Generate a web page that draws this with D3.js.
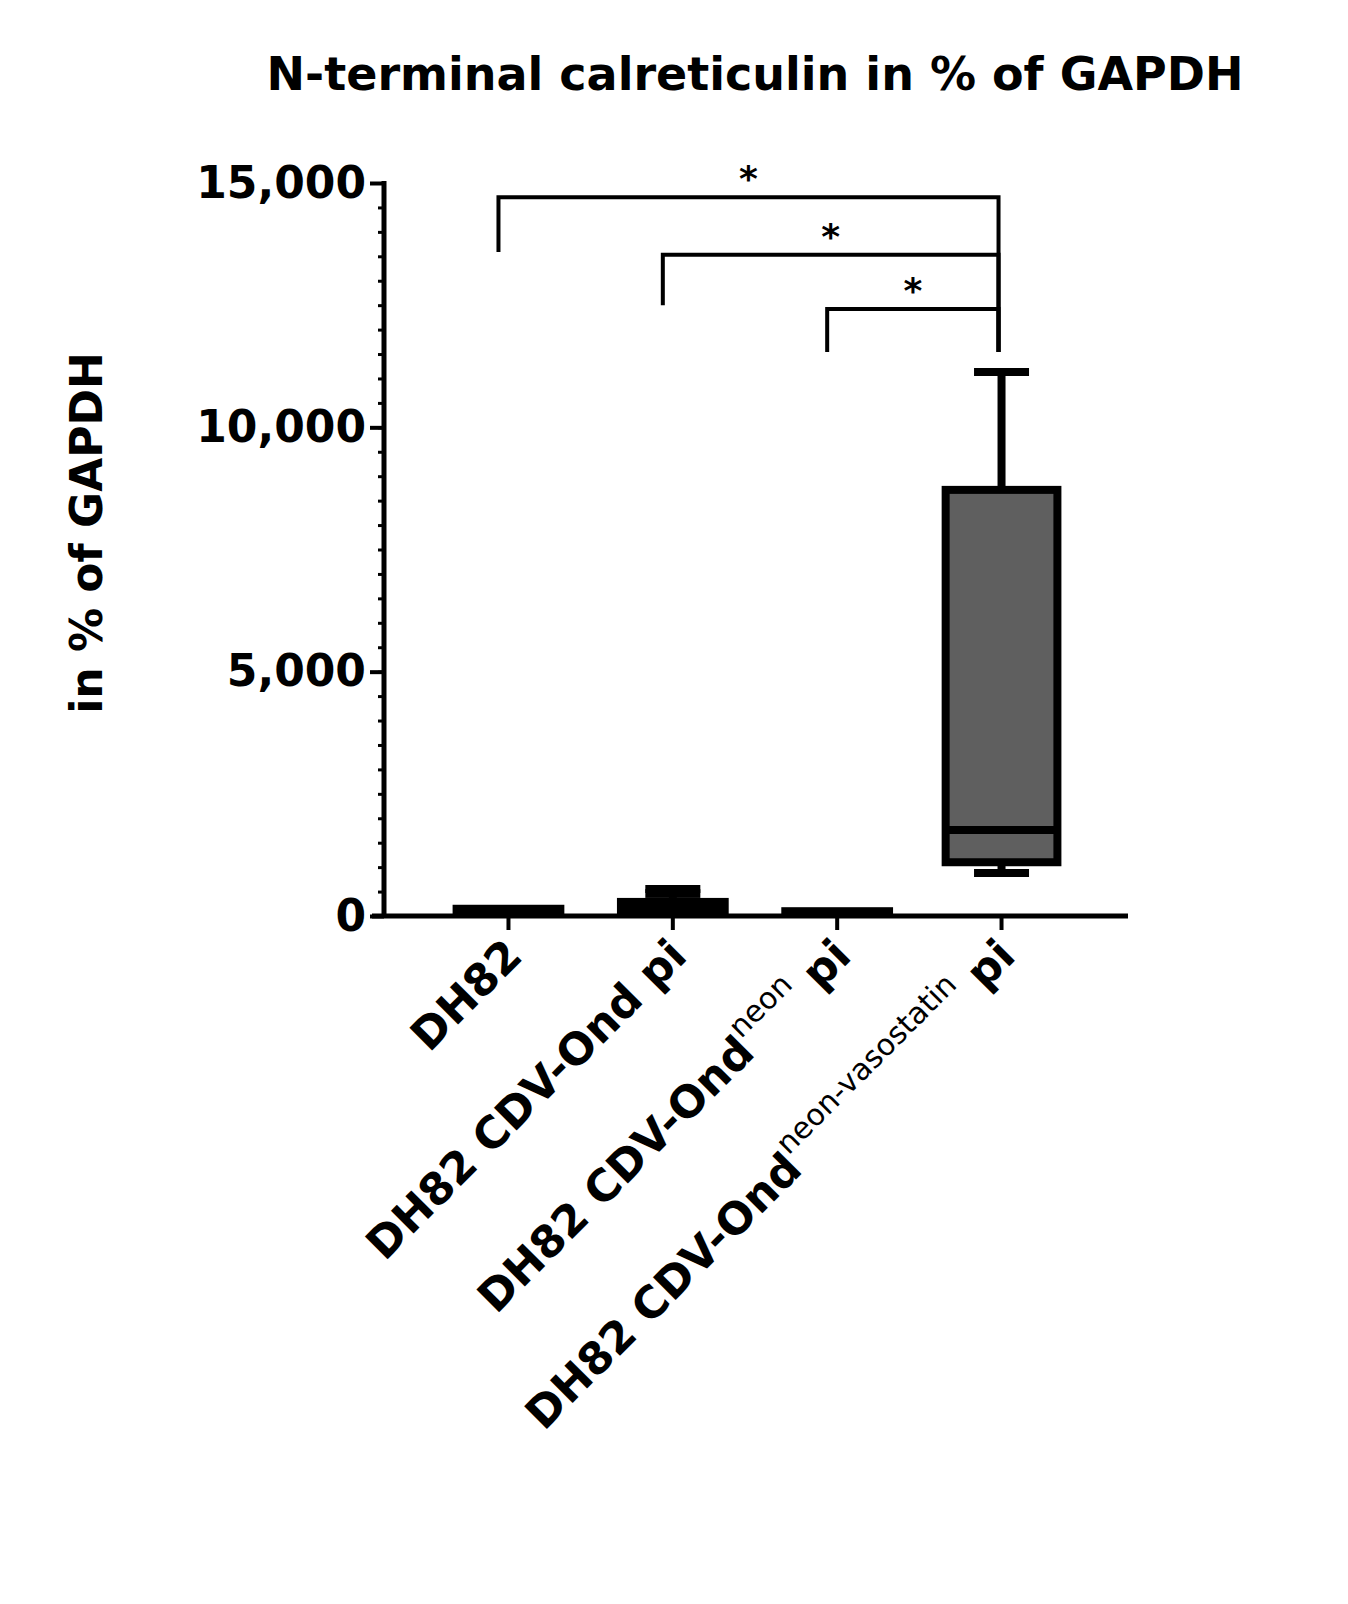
<!DOCTYPE html><html><head><script src="https://cdn.jsdelivr.net/npm/d3@7"></script>
<style>body{margin:0;background:#fff}text{font-family:"DejaVu Sans",Verdana,sans-serif;font-weight:bold}</style></head><body><svg id="c" width="1348" height="1604"></svg><script>
const categories=["DH82","DH82 CDV-Ond pi","DH82 CDV-Ond neon pi","DH82 CDV-Ond neon-vasostatin pi"];
const labelParts=[[["DH82",""]],[["DH82 CDV-Ond pi",""]],[["DH82 CDV-Ond",""],["neon","sup"],[" pi",""]],[["DH82 CDV-Ond",""],["neon-vasostatin","sup"],[" pi",""]]];
const mins=[0,0,0,880], q1s=[0,0,0,1100], medians=[0,0,0,1760], q3s=[230,370,180,8720], maxs=[230,550,180,11130];
const yTicks=[0,5000,10000,15000];
const comparisons=[[0,3,14710,13590,"*"],[1,3,13530,12500,"*"],[2,3,12420,11540,"*"]];
const svg=d3.select("#c");
const y=d3.scaleLinear().domain([0,15000]).range([916,183]);
const x=d3.scaleBand().domain(categories).range([400,1110]).padding(0.32);
const g=svg.append("g");
g.append("g").attr("transform","translate(384,0)").call(d3.axisLeft(y).tickValues(d3.range(0,15001,500)).tickFormat("").tickSize(6)).call(a=>{a.select(".domain").remove();a.selectAll("line").attr("stroke","#000").attr("stroke-width",3);});
g.append("g").attr("transform","translate(384,0)").call(d3.axisLeft(y).tickValues(yTicks).tickFormat(d3.format(",")).tickSize(14).tickPadding(4)).call(a=>{a.select(".domain").remove();a.selectAll("line").attr("stroke","#000").attr("stroke-width",4);a.selectAll("text").attr("font-size",44).attr("fill","#000").style("font-family","DejaVu Sans").style("font-weight","bold");});
g.append("line").attr("x1",384).attr("x2",384).attr("y1",y(15000)-2).attr("y2",918).attr("stroke","#000").attr("stroke-width",5);
categories.forEach((c,i)=>{
  const cx=x(c)+x.bandwidth()/2, w=x.bandwidth(), cap=55;
  if(maxs[i]>q3s[i]){g.append("line").attr("x1",cx).attr("x2",cx).attr("y1",y(maxs[i])).attr("y2",y(q3s[i])).attr("stroke","#000").attr("stroke-width",8);
    g.append("line").attr("x1",cx-cap/2).attr("x2",cx+cap/2).attr("y1",y(maxs[i])).attr("y2",y(maxs[i])).attr("stroke","#000").attr("stroke-width",8);}
  if(q1s[i]>mins[i]){g.append("line").attr("x1",cx-cap/2).attr("x2",cx+cap/2).attr("y1",y(mins[i])).attr("y2",y(mins[i])).attr("stroke","#000").attr("stroke-width",8);
    g.append("line").attr("x1",cx).attr("x2",cx).attr("y1",y(mins[i])).attr("y2",y(q1s[i])).attr("stroke","#000").attr("stroke-width",8);}
  const h=y(q1s[i])-y(q3s[i]);
  if(h>20){g.append("rect").attr("x",x(c)).attr("y",y(q3s[i])).attr("width",w).attr("height",h).attr("fill","#5f5f5f").attr("stroke","#000").attr("stroke-width",8);
    g.append("line").attr("x1",x(c)).attr("x2",x(c)+w).attr("y1",y(medians[i])).attr("y2",y(medians[i])).attr("stroke","#000").attr("stroke-width",8);}
  else {g.append("rect").attr("x",x(c)).attr("y",y(q3s[i])).attr("width",w).attr("height",y(0)-y(q3s[i])).attr("fill","#000");
    if(maxs[i]>q3s[i]) g.append("rect").attr("x",cx-cap/2).attr("y",y(maxs[i])).attr("width",cap).attr("height",y(q3s[i])-y(maxs[i])).attr("fill","#000");}
});
g.append("line").attr("x1",372).attr("x2",1128).attr("y1",916).attr("y2",916).attr("stroke","#000").attr("stroke-width",5);
categories.forEach((c,i)=>{
  const cx=x(c)+x.bandwidth()/2;
  g.append("line").attr("x1",cx).attr("x2",cx).attr("y1",916).attr("y2",930).attr("stroke","#000").attr("stroke-width",4);
  const t=g.append("text").attr("transform",`translate(${cx+16},${958}) rotate(-45)`).attr("text-anchor","end").attr("font-size",44).attr("fill","#000");
  labelParts[i].forEach(([s,k])=>{const sp=t.append("tspan").text(s);if(k==="sup"){sp.attr("font-size",30).attr("dy",-22).style("font-weight","normal");}else if(s.startsWith(" ")&&labelParts[i].length>1){sp.attr("dy",22);}});
});
comparisons.forEach(([a,b,top,lft,s])=>{
  const xa=x(categories[a])+x.bandwidth()/2-10, xb=x(categories[b])+x.bandwidth()/2-3;
  g.append("path").attr("d",`M${xa},${y(lft)}V${y(top)}H${xb}V${y(11540)}`).attr("fill","none").attr("stroke","#000").attr("stroke-width",4);
  g.append("text").attr("x",(xa+xb)/2).attr("y",y(top)-6).attr("text-anchor","middle").attr("font-size",36).attr("fill","#000").text(s);
});
svg.append("text").attr("x",755).attr("y",90).attr("text-anchor","middle").attr("font-size",46).attr("fill","#000").text("N-terminal calreticulin in % of GAPDH");
svg.append("text").attr("transform","translate(102,533) rotate(-90)").attr("text-anchor","middle").attr("font-size",44).attr("fill","#000").text("in % of GAPDH");
</script></body></html>
